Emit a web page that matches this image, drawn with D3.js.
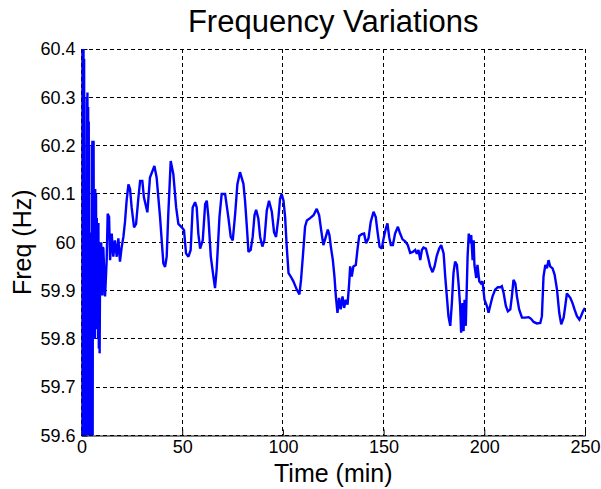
<!DOCTYPE html>
<html><head><meta charset="utf-8">
<script src="https://cdn.jsdelivr.net/npm/d3@7"></script>
<style>
body{margin:0;background:#fff;}
svg text{font-family:"Liberation Sans",Arial,Helvetica,sans-serif;fill:#000;}
</style>
</head><body>
<svg id="chart" width="601" height="489"></svg>
<script>
// ---------- data ----------
const chartTitle = "Frequency Variations";
const xAxisLabel = "Time (min)";
const yAxisLabel = "Freq (Hz)";
const xTickValues = [0, 50, 100, 150, 200, 250];
const xTickLabels = ["0", "50", "100", "150", "200", "250"];
const yTickValues = [59.6, 59.7, 59.8, 59.9, 60.0, 60.1, 60.2, 60.3, 60.4];
const yTickLabels = ["59.6", "59.7", "59.8", "59.9", "60", "60.1", "60.2", "60.3", "60.4"];

// start-up transient (0 - 10.6 min)
const timeEarly = [0,0.1,0.25,0.4,0.55,0.7,0.85,1.0,1.15,1.3,1.45,1.6,1.75,1.9,2.05,2.2,2.35,2.5,2.65,2.8,2.95,3.1,3.3,3.45,3.6,3.75,3.9,4.05,4.2,4.35,4.5,4.65,4.8,4.95,5.1,5.25,5.4,5.55,5.7,5.85,6.0,6.2,6.4,6.6,6.8,7.0,7.2,7.4,7.6,7.8,8.0,8.2,8.4,8.6,8.8,9.0,9.2,9.4,9.6,9.8,10.0,10.2,10.4,10.6];
const freqEarly = [59.6,60.45,59.55,60.45,59.6,60.42,59.58,60.4,59.6,60.38,59.58,60.1,59.6,60.09,59.62,60.1,59.6,60.05,60.3,59.6,60.31,59.58,60.28,59.72,60.25,59.6,60.0,59.6,59.95,59.62,60.02,59.6,59.98,59.6,60.2,59.62,60.21,59.6,60.2,59.8,60.21,59.85,60.1,59.8,60.11,59.85,60.1,59.9,60.05,59.82,60.04,59.8,60.04,59.78,59.95,59.77,59.92,60.0,59.9,60.0,59.89,59.99,59.89,59.99];

// 10.85 - 77.4 min
const timeMid = [10.85,11.7,12.5,13.0,13.7,14.2,15.0,15.8,16.6,17.5,18.3,19.1,19.95,20.8,21.6,22.4,23.3,24.1,24.9,26.1,27.1,28.2,29.1,30.2,31.0,32.7,34.0,36.2,37.3,39.0,40.65,41.5,42.3,43.1,44.3,45.6,47.0,48.1,49.8,50.9,51.9,53.1,54.2,55.2,56.4,57.2,58.0,58.9,60.2,61.4,62.2,63.0,64.2,65.5,66.3,67.1,68.5,69.6,71.3,72.9,74.1,75.1,76.3,77.4];
const freqMid = [59.987,59.888,59.963,60.059,60.052,59.963,60.018,59.97,60.004,59.97,60.008,59.96,59.99,60.011,60.042,60.086,60.12,60.11,60.072,60.031,60.038,60.09,60.127,60.127,60.093,60.062,60.134,60.158,60.134,60.052,59.956,59.949,59.97,60.059,60.168,60.141,60.072,60.038,60.031,60.025,59.977,59.97,59.984,60.072,60.083,60.072,60.018,59.987,60.004,60.079,60.086,60.052,59.97,59.929,59.905,59.943,60.052,60.1,60.1,60.052,60.011,60.004,60.059,60.12];

// 78.7 - 250 min
const timeLate = [78.7,80.4,81.2,82.1,82.9,84.0,85.0,85.9,86.7,87.8,
 88.7,89.8,90.8,92.0,93.1,94.5,95.6,96.6,97.8,98.6,
 99.4,100.3,101.1,101.9,102.8,103.9,105.2,106.9,108.2,109.0,
 109.9,111.0,111.9,113.5,115.2,116.8,118.0,119.0,120.1,121.3,
 122.3,123.1,123.8,124.8,125.6,126.3,127.1,127.9,128.7,129.6,
 130.4,131.2,132.1,132.9,133.4,134.2,135.0,136.2,137.0,137.9,
 139.2,140.3,141.3,142.5,143.6,145.0,146.1,147.0,148.0,149.1,
 150.0,150.9,151.9,152.8,153.6,154.6,155.7,157.1,158.2,159.4,
 160.7,162.0,163.2,164.5,165.7,166.5,167.3,168.2,169.0,169.8,
 171.0,172.0,173.1,174.3,175.3,176.4,177.6,178.6,179.8,180.6,
 181.4,182.2,183.1,183.9,184.7,185.5,186.4,187.2,188.0,188.5,
 189.2,189.7,190.2,190.8,191.7,192.3,193.0,193.5,194.2,194.7,
 195.1,196.0,196.6,197.5,198.3,199.1,200.1,201.3,202.1,202.9,
 204.1,205.4,206.7,207.9,208.7,209.6,210.7,211.7,212.9,213.7,
 214.5,215.4,216.2,217.3,218.7,220.3,222.0,223.1,224.5,226.1,
 227.8,228.6,229.4,230.3,231.1,231.9,232.7,233.9,234.9,236.1,
 237.2,238.2,239.4,240.2,241.0,242.7,243.8,244.8,246.0,247.2,
 248.0,249.0,250.0];
const freqLate = [60.145,60.121,60.086,60.032,59.98,59.984,60.011,60.056,60.067,60.049,
 60.011,59.991,60.004,60.066,60.086,60.063,60.021,60.011,60.052,60.09,
 60.1,60.086,60.052,59.991,59.936,59.929,59.919,59.902,59.892,59.922,
 59.97,60.032,60.045,60.05,60.056,60.069,60.056,60.025,59.994,60.011,
 60.026,60.015,59.991,59.963,59.929,59.888,59.854,59.885,59.861,59.888,
 59.864,59.881,59.871,59.915,59.95,59.929,59.95,59.953,59.984,60.013,
 60.017,60.018,59.998,60.008,60.042,60.063,60.052,60.021,59.991,59.987,
 60.008,60.025,60.039,60.01,59.994,59.994,60.018,60.032,60.018,60.006,
 60.002,59.994,59.978,59.98,59.984,59.976,59.984,59.963,59.984,59.989,
 59.987,59.97,59.95,59.938,59.95,59.972,59.987,59.994,59.977,59.929,
 59.888,59.847,59.827,59.874,59.936,59.96,59.953,59.915,59.868,59.813,
 59.874,59.816,59.881,59.827,59.97,60.018,59.998,60.015,59.963,60.004,
 59.953,59.926,59.953,59.919,59.915,59.919,59.881,59.868,59.854,59.868,
 59.888,59.902,59.907,59.907,59.909,59.895,59.868,59.857,59.861,59.888,
 59.922,59.915,59.888,59.861,59.844,59.844,59.845,59.842,59.835,59.832,
 59.833,59.847,59.929,59.953,59.946,59.963,59.95,59.946,59.933,59.902,
 59.854,59.83,59.844,59.868,59.894,59.885,59.874,59.861,59.847,59.84,
 59.847,59.857,59.864];

// ---------- layout ----------
const plotLeft = 81.5, plotRight = 585, plotTop = 49, plotBottom = 435.5;

const svg = d3.select("#chart");
const x = d3.scaleLinear().domain([0, 250]).range([plotLeft, plotRight]);
const y = d3.scaleLinear().domain([59.6, 60.4]).range([plotBottom, plotTop]);

const timeAll = timeEarly.concat(timeMid, timeLate);
const freqAll = freqEarly.concat(freqMid, freqLate);
const points = timeAll.map((t, i) => [t, freqAll[i]]);

// grid
const grid = svg.append("g").attr("class", "grid");
grid.selectAll("line.gx").data(xTickValues).enter().append("line")
  .attr("x1", d => x(d)).attr("x2", d => x(d))
  .attr("y1", plotTop).attr("y2", plotBottom)
  .attr("stroke", "#000").attr("stroke-width", 1)
  .attr("stroke-dasharray", "4,3").attr("shape-rendering", "crispEdges");
grid.selectAll("line.gy").data(yTickValues).enter().append("line")
  .attr("x1", plotLeft).attr("x2", plotRight)
  .attr("y1", d => y(d)).attr("y2", d => y(d))
  .attr("stroke", "#000").attr("stroke-width", 1)
  .attr("stroke-dasharray", "4,3").attr("shape-rendering", "crispEdges");

// axes
const xAxis = d3.axisBottom(x).tickValues(xTickValues)
  .tickFormat((d, i) => xTickLabels[i]).tickSizeInner(-6).tickSizeOuter(0).tickPadding(5);
const yAxis = d3.axisLeft(y).tickValues(yTickValues)
  .tickFormat((d, i) => yTickLabels[i]).tickSizeInner(-6).tickSizeOuter(0).tickPadding(6);

const gx = svg.append("g").attr("transform", `translate(0,${plotBottom})`).call(xAxis);
const gy = svg.append("g").attr("transform", `translate(${plotLeft},0)`).call(yAxis);
[gx, gy].forEach(g => {
  g.select(".domain").attr("stroke", "#000").attr("stroke-width", 1);
  g.selectAll(".tick line").attr("stroke", "#000").attr("stroke-width", 1);
  g.selectAll(".tick text").attr("font-size", 18).attr("fill", "#1a1a1a")
    .style("font-family", '"Liberation Sans",Arial,sans-serif');
});

// clip + line
svg.append("clipPath").attr("id", "plotClip").append("rect")
  .attr("x", plotLeft).attr("y", plotTop)
  .attr("width", plotRight - plotLeft).attr("height", plotBottom - plotTop);

const line = d3.line().x(d => x(d[0])).y(d => y(d[1]));
svg.append("path").datum(points)
  .attr("clip-path", "url(#plotClip)")
  .attr("d", line)
  .attr("fill", "none").attr("stroke", "#0000ff")
  .attr("stroke-width", 2.4).attr("stroke-linejoin", "miter").attr("stroke-miterlimit", 2);

// labels
svg.append("text").attr("x", (plotLeft + plotRight) / 2).attr("y", 32)
  .attr("text-anchor", "middle").attr("font-size", 31).attr("fill", "#111").text(chartTitle);
svg.append("text").attr("x", (plotLeft + plotRight) / 2).attr("y", 482)
  .attr("text-anchor", "middle").attr("font-size", 25).attr("fill", "#111").text(xAxisLabel);
svg.append("text").attr("transform", `translate(31,${(plotTop + plotBottom) / 2}) rotate(-90)`)
  .attr("text-anchor", "middle").attr("font-size", 25).attr("fill", "#111").text(yAxisLabel);
</script>
</body></html>
